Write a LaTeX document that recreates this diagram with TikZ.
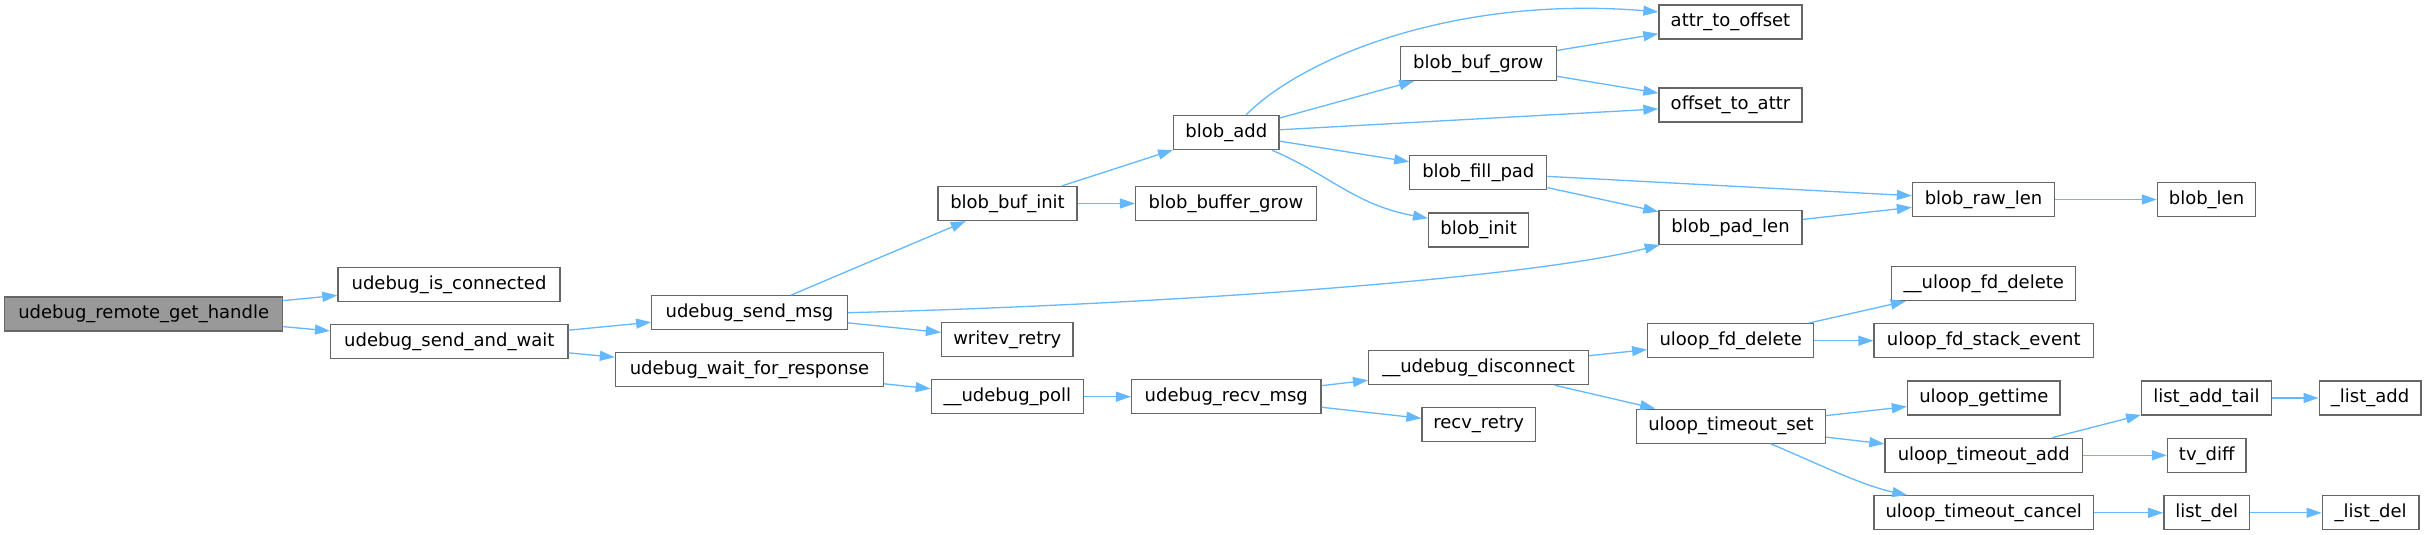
\documentclass[tikz,border=0pt]{standalone}
\usepackage{fontspec}
\setmainfont{DejaVu Sans}
\usetikzlibrary{arrows.meta}
\definecolor{edgec}{HTML}{63B8FF}
\definecolor{bordc}{HTML}{666666}
\definecolor{rootc}{HTML}{999999}
\begin{document}
\begin{tikzpicture}[x=1pt,y=-1pt,
  fn/.style={draw=bordc, line width=1.3pt, fill=white, minimum height=34pt, inner sep=0pt,
    font=\fontsize{18}{20}\selectfont},
  call/.style={draw=edgec, line width=1.3pt, -{Triangle[length=15pt,width=10pt]}}]
\useasboundingbox[fill=white] (0,0) rectangle (2426,535);
% nodes
\node[fn, fill=rootc, minimum width=278pt] (root) at (143.7,314) {udebug\_remote\_get\_handle};
\node[fn, minimum width=222pt] (isconn) at (449,284.7) {udebug\_is\_connected};
\node[fn, minimum width=237.4pt] (sendwait) at (449.3,341.7) {udebug\_send\_and\_wait};
\node[fn, minimum width=195.5pt] (sendmsg) at (749.5,312.7) {udebug\_send\_msg};
\node[fn, minimum width=268pt] (waitresp) at (749.5,369.8) {udebug\_wait\_for\_response};
\node[fn, minimum width=139pt] (bufinit) at (1007.5,203.5) {blob\_buf\_init};
\node[fn, minimum width=131.5pt] (writev) at (1007.3,339.3) {writev\_retry};
\node[fn, minimum width=152pt] (poll) at (1007.3,396.7) {\_\_udebug\_poll};
\node[fn, minimum width=105.3pt] (blobadd) at (1226.3,132.7) {blob\_add};
\node[fn, minimum width=180.8pt] (buffergrow) at (1226,203.5) {blob\_buffer\_grow};
\node[fn, minimum width=189.4pt] (recvmsg) at (1226.3,396.7) {udebug\_recv\_msg};
\node[fn, minimum width=156pt] (bufgrow) at (1478.3,63.3) {blob\_buf\_grow};
\node[fn, minimum width=137pt] (fillpad) at (1478.3,172.7) {blob\_fill\_pad};
\node[fn, minimum width=100pt] (blobinit) at (1478.6,230) {blob\_init};
\node[fn, minimum width=220pt] (disconnect) at (1478.6,367.5) {\_\_udebug\_disconnect};
\node[fn, minimum width=113.4pt] (recvretry) at (1478.7,424.7) {recv\_retry};
\node[fn, minimum width=143pt] (attr) at (1730.5,22) {attr\_to\_offset};
\node[fn, minimum width=143pt] (offset) at (1730.5,105) {offset\_to\_attr};
\node[fn, minimum width=143pt] (padlen) at (1730.5,227.3) {blob\_pad\_len};
\node[fn, minimum width=166pt] (fddelete) at (1730.7,340.7) {uloop\_fd\_delete};
\node[fn, minimum width=189pt] (tset) at (1731,426.2) {uloop\_timeout\_set};
\node[fn, minimum width=142pt] (rawlen) at (1983.5,199.5) {blob\_raw\_len};
\node[fn, minimum width=184pt] (ufddelete) at (1983.8,283.5) {\_\_uloop\_fd\_delete};
\node[fn, minimum width=219.5pt] (stackevent) at (1983.8,340.7) {uloop\_fd\_stack\_event};
\node[fn, minimum width=152.6pt] (gettime) at (1983.8,398) {uloop\_gettime};
\node[fn, minimum width=197.4pt] (tadd) at (1983.7,455.3) {uloop\_timeout\_add};
\node[fn, minimum width=219.7pt] (tcancel) at (1983.7,512.8) {uloop\_timeout\_cancel};
\node[fn, minimum width=98.2pt] (bloblen) at (2206.5,199.5) {blob\_len};
\node[fn, minimum width=129.7pt] (addtail) at (2206.5,398) {list\_add\_tail};
\node[fn, minimum width=78.5pt] (tvdiff) at (2206.7,455.3) {tv\_diff};
\node[fn, minimum width=85.7pt] (listdel) at (2206.7,512.8) {list\_del};
\node[fn, minimum width=101.7pt] (listadd) at (2370,398) {\_list\_add};
\node[fn, minimum width=96.8pt] (listdelb) at (2370.6,512.8) {\_list\_del};
% edges
\draw[call] (root) -- (isconn);
\draw[call] (root) -- (sendwait);
\draw[call] (sendwait) -- (sendmsg);
\draw[call] (sendwait) -- (waitresp);
\draw[call] (sendmsg) -- (bufinit);
\draw[call] (sendmsg.east) .. controls (1150,305) and (1520,280) .. (padlen.194);
\draw[call] (sendmsg) -- (writev);
\draw[call] (bufinit) -- (blobadd);
\draw[call] (bufinit) -- (buffergrow);
\draw[call] (blobadd.42) .. controls (1300,60) and (1450,-5) .. (attr.172);
\draw[call] (blobadd) -- (bufgrow);
\draw[call] (blobadd) -- (offset);
\draw[call] (blobadd) -- (fillpad);
\draw[call] (blobadd.-21) .. controls (1330,175) and (1355,205) .. (blobinit.167);
\draw[call] (bufgrow) -- (attr);
\draw[call] (bufgrow) -- (offset);
\draw[call] (fillpad) -- (rawlen);
\draw[call] (fillpad) -- (padlen);
\draw[call] (padlen) -- (rawlen);
\draw[call] (rawlen) -- (bloblen);
\draw[call] (waitresp) -- (poll);
\draw[call] (poll) -- (recvmsg);
\draw[call] (recvmsg) -- (disconnect);
\draw[call] (recvmsg) -- (recvretry);
\draw[call] (disconnect) -- (fddelete);
\draw[call] (disconnect) -- (tset);
\draw[call] (fddelete) -- (ufddelete);
\draw[call] (fddelete) -- (stackevent);
\draw[call] (tset) -- (gettime);
\draw[call] (tset) -- (tadd);
\draw[call] (tset.-24) .. controls (1810,460) and (1860,485) .. (tcancel.167);
\draw[call] (tadd) -- (addtail);
\draw[call] (tadd) -- (tvdiff);
\draw[call] (addtail) -- (listadd);
\draw[call] (tcancel) -- (listdel);
\draw[call] (listdel) -- (listdelb);
\end{tikzpicture}
\end{document}
